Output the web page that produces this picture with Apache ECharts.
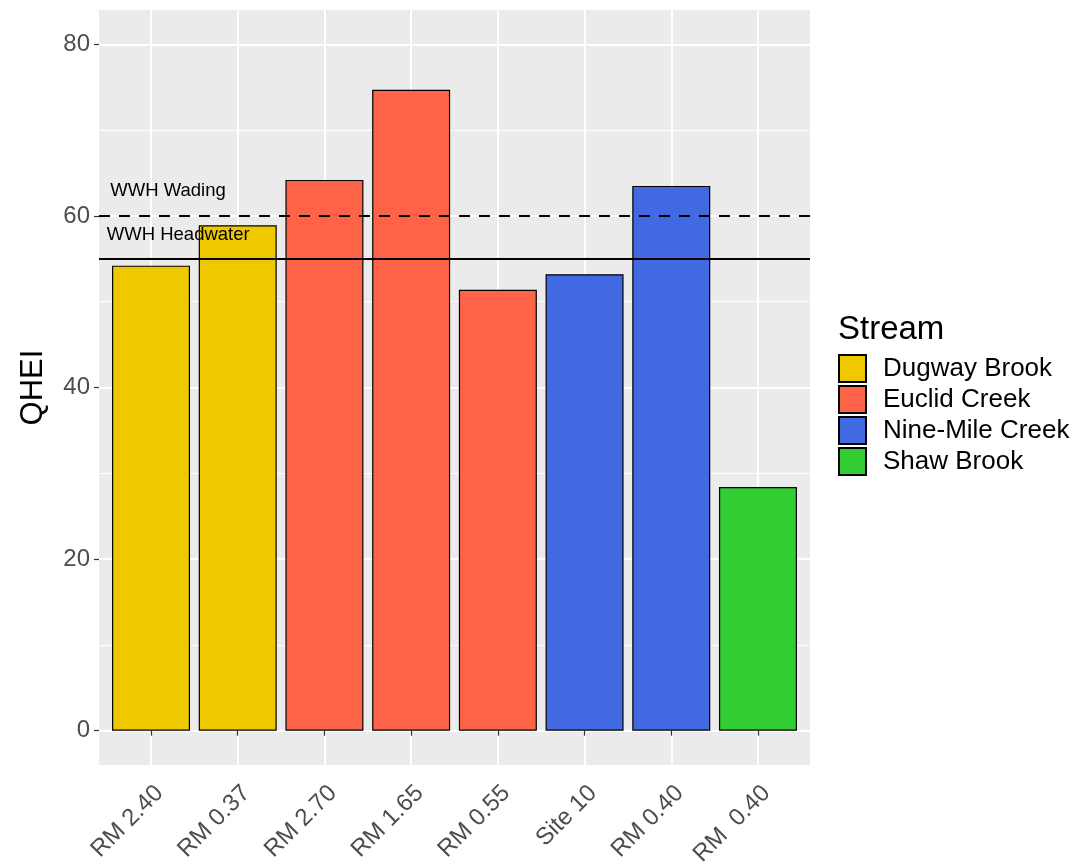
<!DOCTYPE html>
<html>
<head>
<meta charset="utf-8">
<script src="https://cdn.jsdelivr.net/npm/echarts@6/dist/echarts.min.js"></script>
<style>
html,body{margin:0;padding:0;background:#fff;}
#chart{width:1076px;height:867px;}
</style>
</head>
<body>
<div id="chart"></div>
<script>
// ---- data ----
const categories = ['RM 2.40', 'RM 0.37', 'RM 2.70', 'RM 1.65', 'RM 0.55', 'Site 10', 'RM 0.40', 'RM  0.40'];
const qhei = [54.2, 58.9, 64.2, 74.7, 51.4, 53.2, 63.5, 28.4];
const streamOf = ['Dugway Brook', 'Dugway Brook', 'Euclid Creek', 'Euclid Creek', 'Euclid Creek', 'Nine-Mile Creek', 'Nine-Mile Creek', 'Shaw Brook'];
const streams = ['Dugway Brook', 'Euclid Creek', 'Nine-Mile Creek', 'Shaw Brook'];
const streamColors = ['#EEC900', '#FF6347', '#4169E1', '#32CD32'];
const yTicks = [0, 20, 40, 60, 80];
const yMinorTicks = [10, 30, 50, 70];
const refLines = [
  { name: 'WWH Wading', value: 60, type: 'dashed' },
  { name: 'WWH Headwater', value: 55, type: 'solid' }
];
const annotations = [
  { text: 'WWH Wading', x: 0.53, y: 62.9 },
  { text: 'WWH Headwater', x: 0.49, y: 57.8 }
];

const FONT = "'Liberation Sans', Arial, sans-serif";
const positions = categories.map((c, i) => i + 1);

const series = streams.map((s, si) => ({
  name: s,
  type: 'bar',
  barWidth: 78,
  barGap: '-100%',
  itemStyle: { color: streamColors[si], borderColor: '#000', borderWidth: 1.2 },
  data: categories.map((c, i) => streamOf[i] === s ? [positions[i], qhei[i]] : null).filter(d => d),
  z: 2
}));

series.push({
  name: '__ref',
  type: 'line',
  data: [],
  silent: true,
  markLine: {
    silent: true,
    symbol: 'none',
    label: { show: false },
    data: refLines.map(r => ({
      yAxis: r.value,
      lineStyle: { color: '#000', width: 2, type: r.type === 'dashed' ? [11, 9] : 'solid' }
    }))
  },
  markPoint: {
    silent: true,
    symbol: 'circle',
    symbolSize: 0,
    label: {
      show: true, position: 'right', distance: 0, color: '#000', fontSize: 18.5, fontFamily: FONT,
      formatter: p => p.name
    },
    data: annotations.map(a => ({ name: a.text, coord: [a.x, a.y] }))
  },
  z: 5
});

const chart = echarts.init(document.getElementById('chart'), null, { renderer: 'canvas' });
chart.setOption({
  animation: false,
  backgroundColor: '#ffffff',
  title: {
    text: 'Stream', left: 833, top: 308,
    textStyle: { fontSize: 33, fontWeight: 'normal', color: '#000', fontFamily: FONT }
  },
  legend: {
    data: streams,
    orient: 'vertical',
    left: 833, top: 349,
    itemWidth: 27, itemHeight: 27, itemGap: 2,
    icon: 'rect',
    selectedMode: false,
    textStyle: { fontSize: 26, color: '#000', fontFamily: FONT, padding: [0, 0, 0, 12] }
  },
  grid: {
    left: 99, right: 266, top: 10, bottom: 102,
    show: true, backgroundColor: '#EBEBEB', borderWidth: 0,
    containLabel: false, outerBoundsMode: 'none'
  },
  xAxis: {
    type: 'value', min: 0.4, max: 8.6,
    axisLine: { show: false },
    axisTick: { show: true, length: 5, customValues: positions, lineStyle: { color: '#333', width: 1.2 } },
    axisLabel: {
      customValues: positions, rotate: 45, margin: 16,
      align: 'right', verticalAlign: 'top',
      fontSize: 24, color: '#4D4D4D', fontFamily: FONT,
      formatter: v => categories[Math.round(v) - 1] || ''
    },
    splitLine: { show: true, lineStyle: { color: '#fff', width: 2 } }
  },
  yAxis: [{
    type: 'value', min: -4, max: 84,
    name: 'QHEI', nameLocation: 'middle', nameGap: 50, nameRotate: 90,
    nameTextStyle: { fontSize: 31, color: '#000', fontFamily: FONT },
    axisLine: { show: false },
    axisTick: { show: true, length: 5, customValues: yTicks, lineStyle: { color: '#333', width: 1.2 } },
    axisLabel: { customValues: yTicks, margin: 9, fontSize: 24, color: '#4D4D4D', fontFamily: FONT },
    splitLine: { show: true, lineStyle: { color: '#fff', width: 2 } }
  }, {
    type: 'value', min: -4, max: 84, position: 'left',
    axisLine: { show: false },
    axisTick: { show: false, customValues: yMinorTicks },
    axisLabel: { show: false, customValues: yMinorTicks },
    splitLine: { show: true, lineStyle: { color: '#fff', width: 1 } }
  }],
  series: series
});
</script>
</body>
</html>
